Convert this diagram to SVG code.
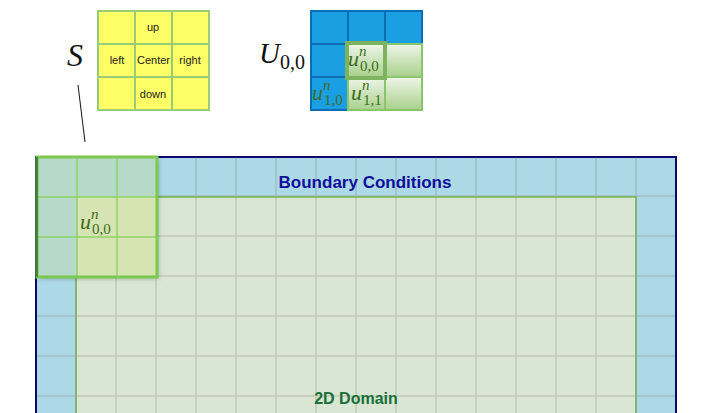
<svg xmlns="http://www.w3.org/2000/svg" width="703" height="413" viewBox="0 0 703 413">
<defs>
<style>
.lbl{font-family:"Liberation Sans",Arial,sans-serif;font-size:11px;fill:#222;text-anchor:middle}
.ycell{fill:#ffff66;stroke:#99cc77;stroke-width:2}
.bcell{fill:#1a9fe3;stroke:#0b6db3;stroke-width:2}
.gcell{fill:url(#gg);stroke:#8cc46c;stroke-width:2}
.math{font-family:"Liberation Serif","Times New Roman",serif;fill:#3b6e1c;font-size:22px}
.it{font-style:italic}
.sup{font-style:italic;font-size:15px}
.sub{font-size:15px}
.grid{stroke:#707070;stroke-opacity:0.18;stroke-width:2}
.hl{stroke:#8fd466;stroke-width:1.5}
</style>
<linearGradient id="gg" x1="0" y1="0" x2="0" y2="1">
<stop offset="0" stop-color="#eef6e8"/>
<stop offset="1" stop-color="#a9d08c"/>
</linearGradient>
<filter id="sh" x="-10%" y="-10%" width="130%" height="130%">
<feDropShadow dx="2" dy="2" stdDeviation="2" flood-color="#000" flood-opacity="0.2"/>
</filter>
</defs>

<g id="stencil-label">
<text x="67" y="66" font-family="Liberation Serif,serif" font-style="italic" font-size="32" fill="#111">S</text>
</g>
<g id="stencil">
<rect class="ycell" x="98" y="11" width="37" height="33"/>
<rect class="ycell" x="135" y="11" width="37" height="33"/>
<rect class="ycell" x="172" y="11" width="37" height="33"/>
<rect class="ycell" x="98" y="44" width="37" height="33"/>
<rect class="ycell" x="135" y="44" width="37" height="33"/>
<rect class="ycell" x="172" y="44" width="37" height="33"/>
<rect class="ycell" x="98" y="77" width="37" height="33"/>
<rect class="ycell" x="135" y="77" width="37" height="33"/>
<rect class="ycell" x="172" y="77" width="37" height="33"/>
<text class="lbl" x="153" y="31">up</text>
<text class="lbl" x="117" y="64">left</text>
<text class="lbl" x="153.5" y="64" font-size="9.5">Center</text>
<text class="lbl" x="190" y="64">right</text>
<text class="lbl" x="153" y="98">down</text>
</g>

<g id="U-label">
<text x="259" y="63" font-family="Liberation Serif,serif" font-size="29" fill="#111"><tspan font-style="italic">U</tspan><tspan font-size="20" dy="6">0,0</tspan></text>
</g>
<g id="U-grid">
<rect class="bcell" x="311" y="11" width="37" height="33"/>
<rect class="bcell" x="348" y="11" width="37" height="33"/>
<rect class="bcell" x="385" y="11" width="37" height="33"/>
<rect class="bcell" x="311" y="44" width="37" height="33"/>
<rect class="bcell" x="311" y="77" width="37" height="33"/>
<rect class="gcell" x="348" y="44" width="37" height="33"/>
<rect class="gcell" x="385" y="44" width="37" height="33"/>
<rect class="gcell" x="348" y="77" width="37" height="33"/>
<rect class="gcell" x="385" y="77" width="37" height="33"/>
<rect x="347" y="43" width="38" height="35" fill="none" stroke="#7db35f" stroke-width="4"/>
<text class="math" x="348" y="66"><tspan class="it">u</tspan><tspan class="sup" dy="-10">n</tspan><tspan class="sub" x="360" dy="15">0,0</tspan></text>
<text class="math" x="312" y="100"><tspan class="it">u</tspan><tspan class="sup" dy="-10">n</tspan><tspan class="sub" x="324" dy="15">1,0</tspan></text>
<text class="math" x="351" y="100"><tspan class="it">u</tspan><tspan class="sup" dy="-10">n</tspan><tspan class="sub" x="363" dy="15">1,1</tspan></text>
</g>

<g id="connectors">
<line x1="78" y1="85" x2="85" y2="142" stroke="#111" stroke-width="1"/>
</g>

<g id="boundary">
<rect x="36" y="157" width="640" height="300" fill="#add8e6" stroke="#0a0a6e" stroke-width="2"/>
</g>
<g id="domain">
<rect x="76" y="197" width="560" height="260" fill="#d8e6d3" stroke="#8bc46b" stroke-width="2"/>
</g>
<g id="gridlines">
<path class="grid" d="M76 157V413M116 157V413M156 157V413M196 157V413M236 157V413M276 157V413M316 157V413M356 157V413M396 157V413M436 157V413M476 157V413M516 157V413M556 157V413M596 157V413M636 157V413M37 196H675M37 236H675M37 276H675M37 316H675M37 356H675M37 396H675"/>
</g>
<g id="labels">
<text x="365" y="188" font-family="Liberation Sans,Arial,sans-serif" font-weight="bold" font-size="17" fill="#0f0f9c" text-anchor="middle">Boundary Conditions</text>
<text x="356" y="404" font-family="Liberation Sans,Arial,sans-serif" font-weight="bold" font-size="16" fill="#1a6e3a" text-anchor="middle">2D Domain</text>
</g>

<g id="highlight">
<g filter="url(#sh)">
<rect x="37" y="157" width="120" height="120" fill="#b6d9c9"/>
<rect x="77" y="197" width="80" height="80" fill="#d6e3b3"/>
</g>
<path class="hl" d="M77 157V277M117 157V277M37 197H157M37 237H157"/>
<rect x="37" y="157" width="120" height="120" fill="none" stroke="#7cc94f" stroke-width="3"/>
<line x1="37" y1="157" x2="37" y2="277" stroke="#3f8a2a" stroke-width="2"/>
<text class="math" x="80" y="229"><tspan class="it">u</tspan><tspan class="sup" dy="-10">n</tspan><tspan class="sub" x="92" dy="15">0,0</tspan></text>
</g>
</svg>
